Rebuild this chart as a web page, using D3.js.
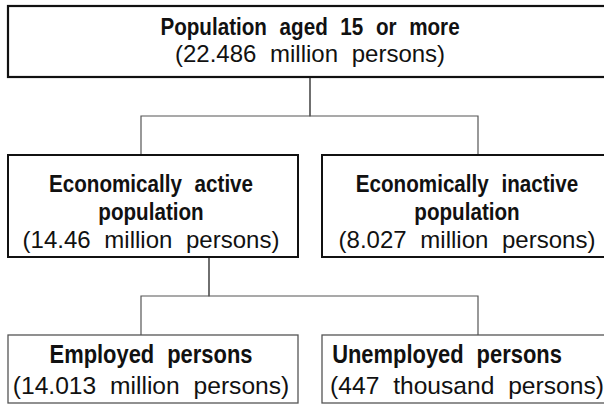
<!DOCTYPE html>
<html>
<head>
<meta charset="utf-8">
<script src="https://cdn.jsdelivr.net/npm/d3@7"></script>
<style>
  body { margin: 0; background: #fff; overflow: hidden; }
  svg { display: block; overflow: hidden; }
  text { font-family: "Liberation Sans", Arial, sans-serif; fill: #111; }
</style>
</head>
<body>
<svg id="chart" width="604" height="405"></svg>
<script>
// nodes of the tree
let names = [
  ["Population aged 15 or more"],
  ["Economically active", "population"],
  ["Economically inactive", "population"],
  ["Employed persons"],
  ["Unemployed persons"]
]
let amounts = ["22.486", "14.46", "8.027", "14.013", "447"]
let units = ["million persons", "million persons", "million persons", "million persons", "thousand persons"]
let parents = [null, 0, 0, 1, 1]
let levels = [0, 1, 1, 2, 2]
let sides = ["full", "left", "right", "left", "right"]

let svg = d3.select("#chart")

let boxTop = d3.scaleOrdinal().domain([0, 1, 2]).range([6, 155, 335])
let boxH = d3.scaleOrdinal().domain([0, 1, 2]).range([71, 102, 68])
let boxX = d3.scaleOrdinal().domain(["full", "left", "right"]).range([8, 8, 322])
let boxW = d3.scaleOrdinal().domain(["full", "left", "right"]).range([640, 290, 320])
let textX = d3.scaleOrdinal().domain(["full", "left", "right"]).range([310, 151, 467])
// where the elbow connectors enter / leave each box
let joinX = d3.scaleOrdinal().domain(["full", "left", "right"]).range([310, 141, 478])
let stemX = d3.scaleOrdinal().domain(["full", "left", "right"]).range([310, 209, 478])

let strokeW = d3.scaleOrdinal().domain([0, 1, 2]).range([2.2, 2, 1.3])
let strokeC = d3.scaleOrdinal().domain([0, 1, 2]).range(["#111", "#111", "#555"])
let boldSize = d3.scaleOrdinal().domain([0, 1, 2]).range([24, 24, 25.5])
let plainSize = d3.scaleOrdinal().domain([0, 1, 2]).range([24, 24, 24.6])
let firstBase = d3.scaleOrdinal().domain([0, 1, 2]).range([29, 37, 28])
let lineGap = d3.scaleOrdinal().domain([0, 1, 2]).range([27, 28, 31])

let nodes = names.map((n, i) => ({
  lines: n, amount: amounts[i], unit: units[i], parent: parents[i], level: levels[i], side: sides[i]
}))

// connectors
let links = svg.append("g").attr("id", "links")
nodes.forEach(d => {
  if (d.parent === null) return
  let p = nodes[d.parent]
  let y0 = boxTop(p.level) + boxH(p.level)
  let y1 = boxTop(d.level)
  let ym = (y0 + y1) / 2
  let px = stemX(p.side)
  let path = d3.path()
  path.moveTo(px, y0)
  path.lineTo(px, ym)
  path.lineTo(joinX(d.side), ym)
  path.lineTo(joinX(d.side), y1)
  links.append("path")
    .attr("d", path.toString())
    .style("fill", "none")
    .style("stroke", "#555")
    .style("stroke-width", 1.2)
})

let boxes = svg.append("g").attr("id", "boxes")
  .selectAll("g")
  .data(nodes)
  .join("g")

boxes.append("rect")
  .attr("x", d => boxX(d.side))
  .attr("y", d => boxTop(d.level))
  .attr("width", d => boxW(d.side))
  .attr("height", d => boxH(d.level))
  .style("fill", "#fff")
  .style("stroke", d => strokeC(d.level))
  .style("stroke-width", d => strokeW(d.level))

boxes.each(function (d) {
  let g = d3.select(this)
  let cx = textX(d.side)
  let all = d.lines.map(t => ({ t: t, bold: true }))
  all.push({ t: "(" + d.amount + " " + d.unit + ")", bold: false })
  let y0 = boxTop(d.level) + firstBase(d.level)
  all.forEach((l, j) => {
    // the bottom-right title sits a little left of its box centre
    let x = cx
    if (l.bold && d.level == 2 && d.side == "right") x = cx - 20
    g.append("text")
      .attr("text-anchor", "middle")
      .attr("transform", `translate(${x},${y0 + j * lineGap(d.level)}) scale(${l.bold ? 0.86 : 1},1)`)
      .style("font-size", (l.bold ? boldSize(d.level) : plainSize(d.level)) + "px")
      .style("font-weight", l.bold ? "bold" : "normal")
      .style("word-spacing", l.bold ? "8px" : "7px")
      .text(l.t)
  })
})
</script>
</body>
</html>
